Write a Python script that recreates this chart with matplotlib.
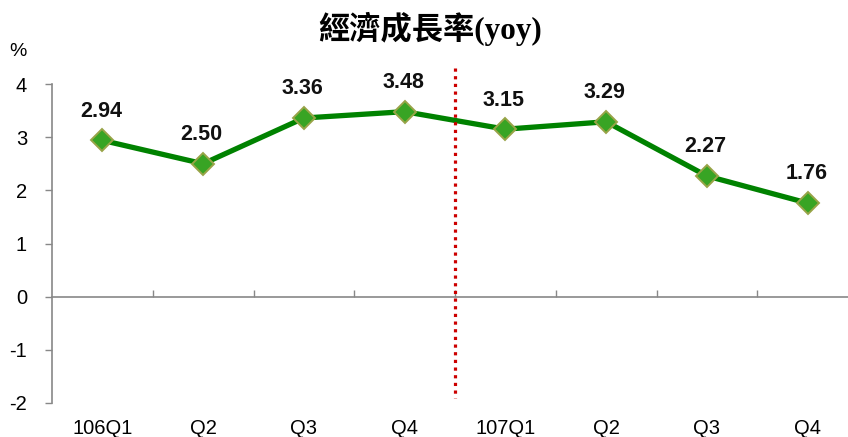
import matplotlib
matplotlib.use("Agg")
import matplotlib.pyplot as plt
from matplotlib.transforms import blended_transform_factory

categories = ["106Q1", "Q2", "Q3", "Q4", "107Q1", "Q2", "Q3", "Q4"]
growth = [2.94, 2.50, 3.36, 3.48, 3.15, 3.29, 2.27, 1.76]
y_ticks = [-2, -1, 0, 1, 2, 3, 4]
divider_x = 3.5

plt.rcParams['font.family'] = ['Liberation Sans', 'DejaVu Sans']
plt.rcParams['axes.unicode_minus'] = False

fig = plt.figure(figsize=(8.48, 4.37), dpi=100)
ax = fig.add_axes([52/848, 34/437, 806/848, 319/437])

x = list(range(len(categories)))
ax.plot(x, growth, color='#008200', lw=3.8, zorder=3,
        marker='D', markersize=11.5, markerfacecolor='#38a424',
        markeredgecolor='#98a448', markeredgewidth=1.4)

for xi, v in zip(x, growth):
    ax.annotate(f"{v:.2f}", (xi, v), xytext=(-1, 21), textcoords='offset points',
                ha='center', va='center', fontsize=15.5, fontweight='bold', color='#111111')

ax.plot([divider_x, divider_x], [4.3, -1.9], color='#cc0000', lw=2.3,
        linestyle=(0, (1, 1.4)), zorder=4, clip_on=False)

ax.set_xlim(-0.5, len(categories) - 0.5)
ax.set_ylim(-2, 4)
ax.set_yticks(y_ticks)
ax.tick_params(axis='y', direction='out', length=5, width=1, color='#888888',
               labelsize=14.5, pad=13)
ax.set_xticks([i + 0.5 for i in x])
ax.set_xticklabels([])
ax.tick_params(axis='x', direction='in', length=5, width=1, color='#888888')

for s in ['top', 'right']:
    ax.spines[s].set_visible(False)
ax.spines['bottom'].set_position(('data', 0))
ax.spines['bottom'].set_color('#888888')
ax.spines['left'].set_color('#888888')
ax.spines['bottom'].set_linewidth(1.2)
ax.spines['left'].set_linewidth(1.2)

trans = blended_transform_factory(ax.transData, ax.transAxes)
for xi, c in zip(x, categories):
    ax.text(xi, -0.08, c, transform=trans, ha='center', va='center', fontsize=14.5)

fig.text(18/848, 1 - 52/437, "%", ha='center', va='center', fontsize=14)
fig.text(430/848, 1 - 29/437, "經濟成長率(yoy)", ha='center', va='center',
         fontsize=22.5, fontweight='bold', family=['Liberation Serif', 'Noto Sans CJK TC'])

fig.savefig("out.png", dpi=100)
